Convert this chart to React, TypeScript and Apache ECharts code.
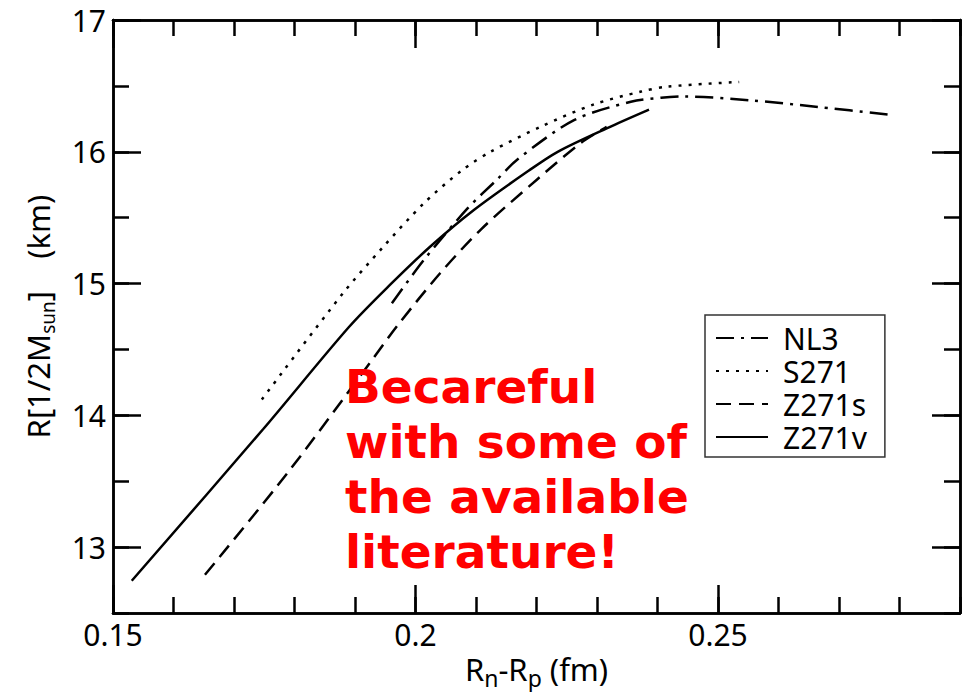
import React, { useEffect, useRef } from "react";
import * as echarts from "echarts";

// ---- data ----
const seriesNames = ["NL3", "S271", "Z271s", "Z271v"];

const nl3: [number, number][] = [
  [0.1961, 14.85], [0.2014, 15.18], [0.2086, 15.57], [0.2135, 15.79],
  [0.2168, 15.94], [0.2262, 16.24], [0.2356, 16.38], [0.2406, 16.41],
  [0.2444, 16.42], [0.2555, 16.39], [0.2665, 16.34], [0.2786, 16.28],
];
const s271: [number, number][] = [
  [0.1746, 14.12], [0.1879, 14.92], [0.1945, 15.27], [0.2014, 15.61],
  [0.2077, 15.86], [0.2124, 16.0], [0.2207, 16.19], [0.2295, 16.36],
  [0.2373, 16.457], [0.2417, 16.495], [0.2535, 16.53],
];
const z271s: [number, number][] = [
  [0.1652, 12.79], [0.1788, 13.56], [0.1925, 14.4], [0.197, 14.68],
  [0.2041, 15.08], [0.2108, 15.41], [0.2201, 15.79], [0.2273, 16.066],
  [0.2316, 16.19],
];
const z271v: [number, number][] = [
  [0.1531, 12.745], [0.1748, 13.894], [0.189, 14.67], [0.1959, 14.995],
  [0.2025, 15.283], [0.2097, 15.56], [0.2185, 15.85], [0.2235, 16.0],
  [0.2317, 16.18], [0.2386, 16.32],
];

const xMin = 0.15;
const xMax = 0.29;
const xMajorTicks = [0.15, 0.2, 0.25];
const xMinorStep = 0.01;
const yMin = 12.5;
const yMax = 17;
const yMajorTicks = [13, 14, 15, 16, 17];
const yMinorStep = 0.5;

const warningText = "Becareful\nwith some of\nthe available\nliterature!";

const FONT = "Noto Sans";

export default function App() {
  const ref = useRef<HTMLDivElement>(null);
  useEffect(() => {
    if (!ref.current) return;
    const chart = echarts.init(ref.current, undefined, { renderer: "svg" });
    const axisLine = { show: true, lineStyle: { color: "#000", width: 2.5 } };
    const label = { color: "#000", fontSize: 30, fontFamily: FONT };
    const mkX = (pos: "bottom" | "top", major: boolean, withLabel: boolean, extra: any = {}) => ({
      type: "value",
      position: pos,
      min: xMin,
      max: xMax,
      ...(major ? {} : { interval: xMinorStep }),
      axisLine,
      splitLine: { show: false },
      axisTick: {
        show: true,
        inside: true,
        length: major ? 28 : 16,
        lineStyle: { color: "#000", width: 2.5 },
        ...(major ? { customValues: xMajorTicks } : {}),
      },
      axisLabel: withLabel
        ? { show: true, ...label, margin: 6, customValues: xMajorTicks }
        : { show: false },
      ...extra,
    });
    const mkY = (pos: "left" | "right", major: boolean, withLabel: boolean, extra: any = {}) => ({
      type: "value",
      position: pos,
      min: yMin,
      max: yMax,
      ...(major ? {} : { interval: yMinorStep }),
      axisLine,
      splitLine: { show: false },
      axisTick: {
        show: true,
        inside: true,
        length: major ? 28 : 16,
        lineStyle: { color: "#000", width: 2.5 },
        ...(major ? { customValues: yMajorTicks } : {}),
      },
      axisLabel: withLabel
        ? { show: true, ...label, margin: 7, customValues: yMajorTicks }
        : { show: false },
      ...extra,
    });

    const lineSeries = (name: string, data: [number, number][], type: any) => ({
      name,
      type: "line",
      data,
      xAxisIndex: 0,
      yAxisIndex: 0,
      symbol: "none",
      showSymbol: false,
      smooth: 0.3,
      lineStyle: { color: "#000", width: 2.5, type, cap: "butt" },
      itemStyle: { color: "#000" },
      z: 3,
    });

    chart.setOption({
      animation: false,
      backgroundColor: "#fff",
      grid: {
        left: 113,
        top: 20,
        right: 11,
        bottom: 79,
        containLabel: false,
        outerBoundsMode: "none",
      },
      xAxis: [
        mkX("bottom", true, true, {
          name: "{m|R}{s|n}{m|-R}{s|p}{m| (fm)}",
          nameLocation: "middle",
          nameGap: 32,
          nameTextStyle: {
            rich: {
              m: { fontSize: 31, fontFamily: FONT, color: "#000" },
              s: { fontSize: 23, fontFamily: FONT, color: "#000", padding: [18, 0, 0, 0] },
            },
          },
        }),
        mkX("bottom", false, false),
        mkX("top", true, false),
        mkX("top", false, false),
      ],
      yAxis: [
        mkY("left", true, true, {
          name: "{m|R[1/2M}{s|sun}{m|]    (km)}",
          nameLocation: "middle",
          nameGap: 56,
          nameRotate: 90,
          nameTextStyle: {
            rich: {
              m: { fontSize: 31, fontFamily: FONT, color: "#000" },
              s: { fontSize: 19, fontFamily: FONT, color: "#000", padding: [20, 0, 0, 0] },
            },
          },
        }),
        mkY("left", false, false),
        mkY("right", true, false),
        mkY("right", false, false),
      ],
      legend: {
        show: true,
        data: seriesNames,
        orient: "vertical",
        left: 705,
        top: 315,
        backgroundColor: "#fff",
        borderColor: "#333",
        borderWidth: 1.5,
        padding: [8, 18, 5, 10],
        itemWidth: 52,
        itemHeight: 14,
        itemGap: 3,
        selectedMode: false,
        itemStyle: { opacity: 0 },
        textStyle: { fontSize: 30, fontFamily: FONT, color: "#000", lineHeight: 30, padding: [0, 0, 0, 10] },
      },
      series: [
        lineSeries(seriesNames[0], nl3, [18, 7, 3, 7]),
        lineSeries(seriesNames[1], s271, [3, 7]),
        lineSeries(seriesNames[2], z271s, [15, 8]),
        lineSeries(seriesNames[3], z271v, "solid"),
      ],
      graphic: [
        {
          type: "text",
          left: 345,
          top: 359,
          z: 100,
          style: {
            text: warningText,
            fill: "#ff0000",
            fontSize: 47,
            fontWeight: "bold",
            fontFamily: "DejaVu Sans",
            lineHeight: 55,
          },
        },
      ],
    });
    return () => chart.dispose();
  }, []);
  return (
    <div
      ref={ref}
      style={{ position: "fixed", left: 0, top: 0, width: 971, height: 692, background: "#fff" }}
    />
  );
}
